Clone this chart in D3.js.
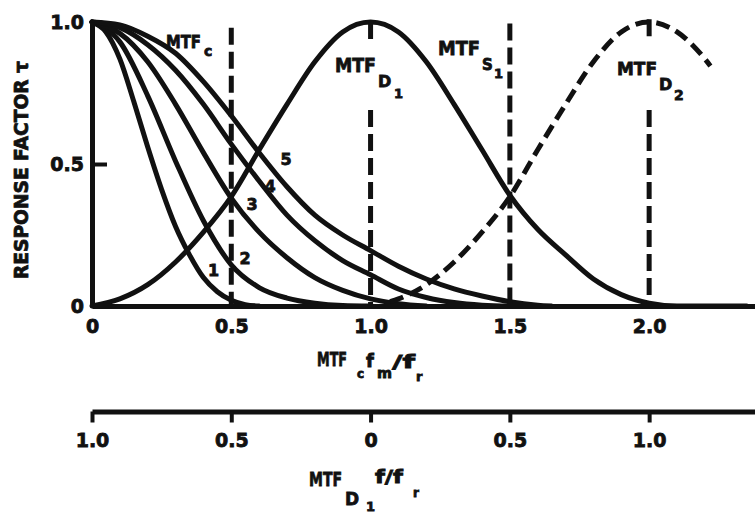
<!DOCTYPE html>
<html>
<head>
<meta charset="utf-8">
<script src="https://cdn.jsdelivr.net/npm/d3@7"></script>
<style>
  html, body { margin: 0; padding: 0; background: #fff; }
  svg { display: block; }
  text { font-family: "DejaVu Sans", "Liberation Sans", sans-serif; font-weight: bold; fill: #111; stroke: #111; stroke-width: 0.8; }
</style>
</head>
<body>
<svg id="chart" width="755" height="514"></svg>
<script>
// Response factor τ against normalised frequency f_m / f_r

// MTF_c family, curves 1–5: [frequency, response]
const mtfC1 = [[0,1],[0.05,0.965],[0.1,0.87],[0.15,0.72],[0.2,0.56],[0.25,0.41],[0.3,0.28],[0.35,0.18],[0.4,0.1],[0.45,0.05],[0.5,0.02],[0.55,0.005],[0.6,0]];
const mtfC2 = [[0,1],[0.1,0.93],[0.2,0.74],[0.3,0.51],[0.4,0.3],[0.5,0.145],[0.6,0.065],[0.7,0.028],[0.8,0.01],[0.9,0.002],[1.0,0]];
const mtfC3 = [[0,1],[0.1,0.96],[0.2,0.86],[0.3,0.71],[0.4,0.54],[0.5,0.38],[0.6,0.26],[0.7,0.17],[0.8,0.1],[0.9,0.055],[1.0,0.025],[1.1,0.008],[1.2,0]];
const mtfC4 = [[0,1],[0.1,0.98],[0.2,0.92],[0.3,0.83],[0.4,0.71],[0.5,0.57],[0.6,0.44],[0.7,0.32],[0.8,0.23],[0.9,0.16],[1.0,0.11],[1.1,0.06],[1.2,0.03],[1.3,0.012],[1.4,0.003],[1.5,0]];
const mtfC5 = [[0,1],[0.1,0.99],[0.2,0.95],[0.3,0.89],[0.4,0.79],[0.5,0.67],[0.6,0.54],[0.7,0.42],[0.8,0.32],[0.9,0.25],[1.0,0.195],[1.1,0.14],[1.2,0.095],[1.3,0.06],[1.4,0.035],[1.5,0.015],[1.6,0.003],[1.65,0]];

// Detector response MTF_D1 (solid) and its first alias MTF_D2 (dashed)
const mtfD1 = [[0,0],[0.1,0.025],[0.2,0.075],[0.3,0.155],[0.4,0.26],[0.5,0.385],[0.6,0.55],[0.7,0.71],[0.8,0.86],[0.9,0.965],[1.0,1.0],[1.1,0.965],[1.2,0.86],[1.3,0.71],[1.4,0.55],[1.5,0.39],[1.6,0.27],[1.7,0.18],[1.8,0.095],[1.9,0.04],[2.0,0.01],[2.1,0],[2.35,0]];
const mtfD2 = [[1.07,0.015],[1.1,0.025],[1.2,0.075],[1.3,0.155],[1.4,0.26],[1.5,0.385],[1.6,0.55],[1.7,0.71],[1.8,0.86],[1.9,0.965],[2.0,1.0],[2.1,0.965],[2.2,0.87],[2.22,0.845]];

// Vertical guides: frequency and the response spans they cover
const guideFreqs = [0.5, 1.0, 1.5, 2.0];
const guideSpans = [
  [[0.98, 0]],
  [[1.0, 0.93], [0.69, 0]],
  [[0.995, 0]],
  [[1.01, 0.925], [0.69, 0]]
];

// Axis ticks
const freqTicks = [0, 0.5, 1.0, 1.5, 2.0];
const freqTickLabels = ["0", "0.5", "1.0", "1.5", "2.0"];
const respTicks = [0, 0.5, 1.0];
const respTickLabels = ["0", "0.5", "1.0"];
const detTicks = [-1, -0.5, 0, 0.5, 1];
const detTickLabels = ["1.0", "0.5", "0", "0.5", "1.0"];

const curveNames = ["1", "2", "3", "4", "5"];

const svg = d3.select("#chart");
const ink = "#111";

const x = d3.scaleLinear().domain([0, 2.38]).range([92, 755]);
const y = d3.scaleLinear().domain([0, 1]).range([306, 22]);
const xDet = d3.scaleLinear().domain([-1, 1.38]).range([92, 755]);

const line = d3.line().x(d => x(d[0])).y(d => y(d[1])).curve(d3.curveMonotoneX);

const curves = svg.append("g").attr("fill", "none").attr("stroke", ink)
  .attr("stroke-width", 5).attr("stroke-linecap", "round").attr("stroke-linejoin", "round");

[mtfC1, mtfC2, mtfC3, mtfC4, mtfC5, mtfD1].forEach(s => curves.append("path").attr("d", line(s)));
curves.append("path").attr("d", line(mtfD2))
  .attr("stroke-dasharray", "14,7").attr("stroke-linecap", "butt");

// dashed vertical guides
const guides = svg.append("g").attr("stroke", ink).attr("stroke-width", 5).attr("stroke-dasharray", "17,7");
guideFreqs.forEach((f, i) => {
  guideSpans[i].forEach(sp => {
    guides.append("line")
      .attr("x1", x(f)).attr("x2", x(f))
      .attr("y1", y(sp[0])).attr("y2", y(sp[1]));
  });
});

// axes
function styleAxis(g, size) {
  g.attr("font-size", null).attr("font-family", null);
  g.select(".domain").attr("stroke", ink).attr("stroke-width", 5);
  g.selectAll(".tick line").attr("stroke", ink).attr("stroke-width", 4);
  g.selectAll(".tick text").style("font-size", size + "px");
}

const xAxis = svg.append("g").attr("transform", `translate(0,${y(0)})`)
  .call(d3.axisBottom(x).tickValues(freqTicks)
    .tickFormat((d, i) => freqTickLabels[i]).tickSize(0).tickSizeOuter(0).tickPadding(14));
styleAxis(xAxis, 19);

const yAxis = svg.append("g").attr("transform", `translate(${x(0)},0)`)
  .call(d3.axisLeft(y).tickValues(respTicks)
    .tickFormat((d, i) => respTickLabels[i]).tickSizeInner(-15).tickSizeOuter(0).tickPadding(8));
styleAxis(yAxis, 19);
yAxis.selectAll(".tick line").filter(d => d !== 0.5).remove();

const detAxis = svg.append("g").attr("transform", "translate(0,411.5)")
  .call(d3.axisBottom(xDet).tickValues(detTicks)
    .tickFormat((d, i) => detTickLabels[i]).tickSize(11).tickSizeOuter(0).tickPadding(11));
styleAxis(detAxis, 19);

// text helper: optional width squeezes the glyphs horizontally
const labels = svg.append("g");
function put(px, py, str, size, len) {
  const t = labels.append("text").attr("x", 0).attr("y", 0)
    .style("font-size", size + "px").text(str);
  let sx = 1;
  if (len) {
    const w = t.node().getComputedTextLength();
    if (w > 0) sx = len / w;
  }
  t.attr("transform", `translate(${px},${py}) scale(${sx},1)`);
  return t;
}

// curve annotations
put(166, 48, "MTF", 17, 35); put(204, 56, "c", 14);
put(335, 72, "MTF", 19, 41); put(378, 87, "D", 16); put(394, 98, "1", 13);
put(438, 55, "MTF", 19, 42); put(482, 70, "S", 15); put(494, 78, "1", 13);
put(617, 75, "MTF", 18, 40); put(659, 90, "D", 16); put(674, 100, "2", 14);

const numPos = [[213.5, 270], [245, 258], [252, 204], [270, 186], [286, 159]];
curveNames.forEach((n, i) => {
  put(numPos[i][0], numPos[i][1] + 6, n, 16).attr("text-anchor", "middle");
});

// axis titles
put(317, 366, "MTF", 19, 30); put(357, 378, "c", 12);
put(366, 367, "f", 18); put(377, 378, "m", 14, 15);
put(392, 368, "/f", 18, 23); put(416, 381, "r", 13);

put(309, 486, "MTF", 19, 33); put(345, 505, "D", 17); put(366, 511, "1", 13);
put(375, 483, "f/f", 17, 28); put(413, 497, "r", 12);

labels.append("text")
  .attr("transform", "translate(28,170) rotate(-90)")
  .attr("text-anchor", "middle")
  .attr("textLength", 218).attr("lengthAdjust", "spacingAndGlyphs")
  .style("font-size", "20px")
  .text("RESPONSE FACTOR τ");
</script>
</body>
</html>
